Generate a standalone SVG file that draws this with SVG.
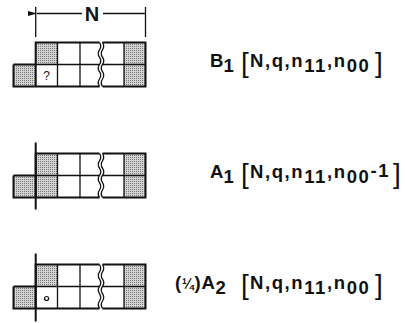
<svg xmlns="http://www.w3.org/2000/svg" width="405" height="323" viewBox="0 0 405 323">
<style>
.ln{stroke:#111;fill:none;stroke-width:1.3}
.ol{stroke:#111;fill:none;stroke-width:2}
.sh{fill:url(#dots)}
.lbl{font-family:"Liberation Sans",Arial,sans-serif;font-weight:bold;font-size:18.5px;fill:#111}
.ct{letter-spacing:1.6px}
.br{font-family:"Liberation Sans",Arial,sans-serif;font-weight:normal;font-size:28px;fill:#111}
.q{font-family:"Liberation Sans",Arial,sans-serif;font-size:12px;fill:#111}
</style>
<defs>
<pattern id="dots" width="2" height="2" patternUnits="userSpaceOnUse">
<rect width="2" height="2" fill="#d4d4d4"/><rect width="1" height="1" fill="#777"/>
</pattern>
<marker id="ah" markerWidth="9" markerHeight="6" refX="0" refY="3" orient="auto-start-reverse" markerUnits="userSpaceOnUse">
<path d="M0,3 L9,0.5 L9,5.5 Z" fill="#111"/>
</marker>
<g id="grid">
<path class="ln" d="M57.5,42.5V86.5M80,42.5V86.5M124,42.5V86.5M35.7,64.5H99.5M102.5,64.5H145.5"/>
<path class="ol" d="M99.5,42.5H35.7V86.5M13.5,64.5H35.7M13.5,64.5V86.5H99.5M102.5,42.5H145.5V86.5H102.5"/>
<path class="ln" d="M99.5,42.5q2.5,3.7 0,7.3t0,7.3t0,7.3t0,7.3t0,7.3t0,7.4"/>
<path class="ln" d="M102.5,42.5q2.5,3.7 0,7.3t0,7.3t0,7.3t0,7.3t0,7.3t0,7.4"/>
</g>
</defs>

<g id="dimension">
<path class="ln" d="M35.7,7V37M145.5,7V37"/>
<path class="ln" d="M82,13.5H37" marker-end="url(#ah)"/>
<path class="ln" d="M103,13.5H145.5"/>
<text class="lbl" x="92" y="20.5" text-anchor="middle" style="font-size:20px">N</text>
</g>

<g id="panel-B1">
<rect class="sh" x="13.5" y="64.5" width="22.2" height="22"/>
<rect class="sh" x="35.7" y="42.5" width="21.8" height="22"/>
<rect class="sh" x="124" y="42.5" width="21.5" height="44"/>
<use href="#grid"/>
<text class="q" x="46.6" y="80" text-anchor="middle">?</text>
<text class="br" x="241" y="72">[</text>
<text class="lbl" x="210" y="67">B<tspan dy="5">1</tspan></text>
<text class="lbl ct" x="250" y="67">N,q,n<tspan dy="5">11</tspan><tspan dy="-5">,n</tspan><tspan dy="5">00</tspan></text>
<text class="br" x="375" y="72">]</text>
</g>

<g id="panel-A1" transform="translate(0,111)">
<rect class="sh" x="13.5" y="64.5" width="22.2" height="22"/>
<rect class="sh" x="35.7" y="42.5" width="21.8" height="44"/>
<rect class="sh" x="124" y="42.5" width="21.5" height="44"/>
<use href="#grid"/>
<path class="ol" d="M35.7,31.5V98.5"/>
<text class="br" x="241" y="72">[</text>
<text class="lbl" x="210" y="67">A<tspan dy="5">1</tspan></text>
<text class="lbl ct" x="250" y="67">N,q,n<tspan dy="5">11</tspan><tspan dy="-5">,n</tspan><tspan dy="5">00</tspan><tspan dy="-6">-1</tspan></text>
<text class="br" x="393" y="72">]</text>
</g>

<g id="panel-A2" transform="translate(0,222)">
<rect class="sh" x="13.5" y="64.5" width="22.2" height="22"/>
<rect class="sh" x="35.7" y="42.5" width="21.8" height="22"/>
<rect class="sh" x="124" y="42.5" width="21.5" height="44"/>
<use href="#grid"/>
<path class="ol" d="M35.7,31.5V99.5"/>
<circle cx="46.6" cy="76.5" r="2" fill="none" stroke="#111" stroke-width="1.2"/>
<text class="br" x="241" y="72">[</text>
<text class="lbl" x="175" y="67" style="letter-spacing:0.8px">(<tspan style="font-size:14px">¼</tspan>)A<tspan dy="5">2</tspan></text>
<text class="lbl ct" x="250" y="67">N,q,n<tspan dy="5">11</tspan><tspan dy="-5">,n</tspan><tspan dy="5">00</tspan></text>
<text class="br" x="375" y="72">]</text>
</g>
</svg>
